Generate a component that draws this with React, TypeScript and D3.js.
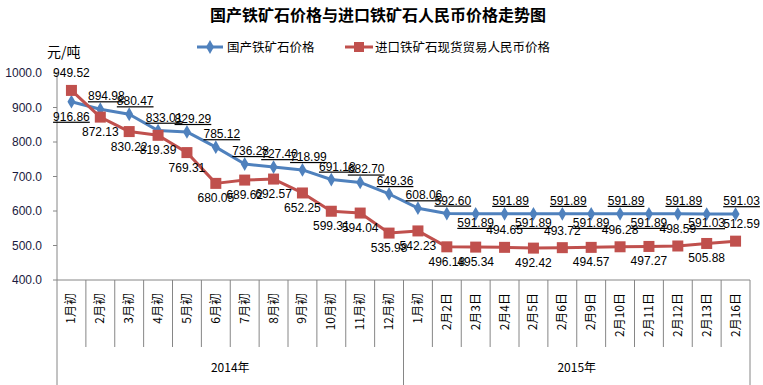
import * as d3 from 'd3'

// categories (x axis)
const cats2014 = ['1月初', '2月初', '3月初', '4月初', '5月初', '6月初', '7月初', '8月初', '9月初', '10月初', '11月初', '12月初']
const cats2015 = ['1月初', '2月2日', '2月3日', '2月4日', '2月5日', '2月6日', '2月9日', '2月10日', '2月11日', '2月12日', '2月13日', '2月16日']
const years = ['2014年', '2015年']

// 国产铁矿石价格
const domestic = [916.86, 894.98, 880.47, 833.01, 829.29, 785.12, 736.28, 727.40, 718.99, 691.18, 682.70, 649.36,
  608.06, 592.60, 591.89, 591.89, 591.89, 591.89, 591.89, 591.89, 591.89, 591.89, 591.03, 591.03]
// 进口铁矿石现货贸易人民币价格
const imported = [949.52, 872.13, 830.22, 819.39, 769.31, 680.05, 689.62, 692.57, 652.25, 599.31, 594.04, 535.98,
  542.23, 496.18, 495.34, 494.65, 492.42, 493.72, 494.57, 496.28, 497.27, 498.59, 505.88, 512.59]

const yTicks = [400, 500, 600, 700, 800, 900, 1000]

// label placement (which points get their label on the other side)
const domesticBelow = [0, 14, 16, 18, 20, 22]
const importedAbove = [0, 15, 17, 19, 21, 23]

const BLUE = '#4F81BD'
const RED = '#C0504D'
const AXIS = '#868686'
const FONT = '"Liberation Sans", "Noto Sans CJK SC", sans-serif'
const CJK = '"Noto Sans CJK SC", sans-serif'

export default function App() {
  const width = 763
  const height = 385
  const left = 57
  const right = 750
  const top = 73
  const bottom = 280

  const cats = [...cats2014, ...cats2015]
  const x = d3.scaleBand<number>().domain(d3.range(cats.length)).range([left, right]).padding(0)
  const cx = (i: number) => (x(i) as number) + x.bandwidth() / 2
  const y = d3.scaleLinear().domain([400, 1000]).range([bottom, top])

  const line = d3.line<number>().x((_, i) => cx(i)).y(d => y(d))

  const diamond = d3.symbol(d3.symbolDiamond, 55)()
  const groupEdges = [0, cats2014.length, cats.length]

  return (
    <svg width={width} height={height} style={{ position: 'absolute', left: 0, top: 0, background: '#fff' }}
      fontFamily={FONT}>
      <text x={378} y={21} textAnchor="middle" fontSize={16} fontWeight="bold" fontFamily={CJK}>
        国产铁矿石价格与进口铁矿石人民币价格走势图
      </text>

      {/* legend */}
      <g fontFamily={CJK} fontSize={12.5}>
        <line x1={197} x2={223} y1={47} y2={47} stroke={BLUE} strokeWidth={3} />
        <path d={diamond} transform="translate(210,47)" fill={BLUE} />
        <text x={227} y={51.5}>国产铁矿石价格</text>
        <line x1={345} x2={373} y1={47} y2={47} stroke={RED} strokeWidth={3} />
        <rect x={354} y={42} width={10} height={10} fill={RED} />
        <text x={375} y={51.5}>进口铁矿石现货贸易人民币价格</text>
      </g>
      <text x={47} y={57} fontSize={14} fontFamily={CJK}>元/吨</text>

      {/* y axis */}
      <line x1={left} x2={left} y1={top} y2={bottom} stroke={AXIS} />
      {yTicks.map(t => (
        <g key={t}>
          <line x1={left - 4} x2={left} y1={y(t)} y2={y(t)} stroke={AXIS} />
          <text x={42} y={y(t) + 4} textAnchor="end" fontSize={12} fill="#1a1a40">{t.toFixed(1)}</text>
        </g>
      ))}

      {/* x axis */}
      <line x1={left} x2={right} y1={bottom} y2={bottom} stroke={AXIS} />
      {cats.map((_, i) => i).concat([cats.length]).map(i => {
        const xx = i < cats.length ? (x(i) as number) : right
        const isEdge = groupEdges.includes(i)
        return <line key={'t' + i} x1={xx} x2={xx} y1={bottom} y2={isEdge ? height : 347} stroke={AXIS} />
      })}
      {cats.map((c, i) => (
        <text key={'c' + i} transform={`translate(${cx(i) + 4},293) rotate(-90)`} textAnchor="end"
          fontSize={12} fontFamily={CJK}>{c}</text>
      ))}
      {years.map((yr, gi) => {
        const a = x(groupEdges[gi]) as number
        const b = groupEdges[gi + 1] < cats.length ? (x(groupEdges[gi + 1]) as number) : right
        return <text key={yr} x={(a + b) / 2} y={372} textAnchor="middle" fontSize={12} fontFamily={CJK}>{yr}</text>
      })}

      {/* series */}
      <path d={line(domestic) as string} fill="none" stroke={BLUE} strokeWidth={3} strokeLinejoin="round" />
      {domestic.map((d, i) => (
        <path key={'bm' + i} d={diamond} transform={`translate(${cx(i)},${y(d)})`} fill={BLUE} />
      ))}
      <path d={line(imported) as string} fill="none" stroke={RED} strokeWidth={3} strokeLinejoin="round" />
      {imported.map((d, i) => (
        <rect key={'rm' + i} x={cx(i) - 5.5} y={y(d) - 5.5} width={11} height={11} fill={RED} />
      ))}

      {/* data labels */}
      {domestic.map((d, i) => {
        const below = domesticBelow.includes(i)
        const dy = below ? (i === 0 ? 19 : 13) : -9
        return (
          <text key={'bl' + i} x={cx(i) + (below ? 0 : 6)} y={y(d) + dy} textAnchor="middle"
            fontSize={12} textDecoration="underline">{d.toFixed(2)}</text>
        )
      })}
      {imported.map((d, i) => {
        const above = importedAbove.includes(i)
        return (
          <text key={'rl' + i} x={cx(i) + (i === 23 ? 6 : 0)} y={y(d) + (above ? -13 : 19)} textAnchor="middle"
            fontSize={12}>{d.toFixed(2)}</text>
        )
      })}
    </svg>
  )
}
